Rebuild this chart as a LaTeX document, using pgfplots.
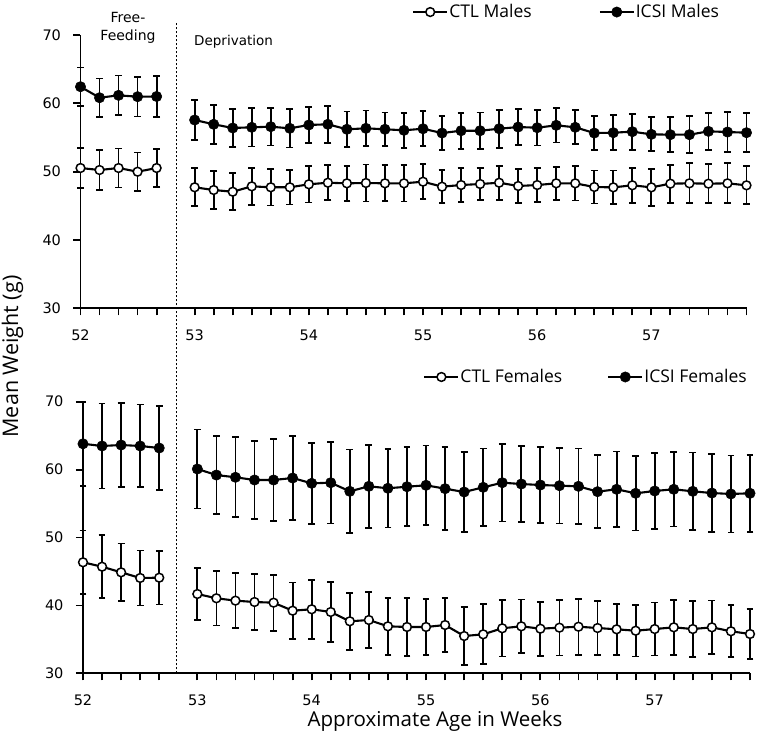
\documentclass[border=0pt]{standalone}
\usepackage{fontspec}
\setmainfont{Open Sans}
\newfontfamily\dejavu{DejaVu Sans}
\usepackage{pgfplots}
\pgfplotsset{compat=1.18}
\usepackage{pgfplotstable}

% ---------- Top panel (males) ----------
\pgfplotstableread{
x y e
0 50.53 2.95
1 50.24 2.90
2 50.53 2.85
3 49.99 2.80
4 50.53 2.75
}\topctlfree
\pgfplotstableread{
x y e
0 62.43 2.80
1 60.82 2.80
2 61.17 2.90
3 60.97 2.90
4 61.00 3.00
}\topicsifree
\pgfplotstableread{
x y e
6 47.71 2.78
7 47.31 2.78
8 47.06 2.73
9 47.85 2.73
10 47.71 2.66
11 47.71 2.51
12 48.15 2.68
13 48.38 2.54
14 48.29 2.56
15 48.34 2.71
16 48.29 2.63
17 48.29 2.66
18 48.53 2.59
19 47.80 2.41
20 48.04 2.46
21 48.19 2.39
22 48.38 2.49
23 47.90 2.46
24 48.04 2.49
25 48.29 2.39
26 48.29 2.51
27 47.75 2.41
28 47.70 2.46
29 48.00 2.56
30 47.70 2.71
31 48.24 2.78
32 48.29 2.93
33 48.24 2.83
34 48.29 2.93
35 48.00 2.78
}\topctldep
\pgfplotstableread{
x y e
6 57.56 2.90
7 56.93 2.83
8 56.39 2.80
9 56.49 2.80
10 56.58 2.75
11 56.34 2.80
12 56.83 2.59
13 56.93 2.73
14 56.20 2.61
15 56.34 2.61
16 56.20 2.46
17 56.05 2.56
18 56.28 2.56
19 55.65 2.54
20 55.99 2.63
21 55.99 2.66
22 56.28 2.80
23 56.53 2.63
24 56.43 2.59
25 56.78 2.51
26 56.49 2.49
27 55.65 2.51
28 55.70 2.54
29 55.85 2.63
30 55.46 2.49
31 55.41 2.54
32 55.41 2.68
33 55.90 2.73
34 55.80 2.88
35 55.70 2.83
}\topicsidep

% ---------- Bottom panel (females) ----------
\pgfplotstableread{
x y e
0 46.35 4.67
1 45.70 4.64
2 44.87 4.25
3 44.04 4.05
4 44.08 3.95
}\botctlfree
\pgfplotstableread{
x y e
0 63.80 6.20
1 63.48 6.26
2 63.62 6.20
3 63.48 6.10
4 63.18 6.20
}\boticsifree
\pgfplotstableread{
x y e
6 41.68 3.85
7 41.05 4.00
8 40.70 4.03
9 40.50 4.12
10 40.40 4.12
11 39.22 4.15
12 39.43 4.34
13 39.03 4.39
14 37.66 4.22
15 37.85 4.17
16 36.92 4.17
17 36.82 4.22
18 36.82 4.17
19 37.11 4.03
20 35.49 4.27
21 35.74 4.42
22 36.63 4.17
23 36.92 3.95
24 36.57 3.98
25 36.72 4.10
26 36.86 4.12
27 36.67 3.95
28 36.48 3.78
29 36.27 3.80
30 36.52 3.90
31 36.77 4.03
32 36.52 4.12
33 36.77 3.95
34 36.19 3.83
35 35.79 3.66
}\botctldep
\pgfplotstableread{
x y e
6 60.09 5.82
7 59.20 5.74
8 58.87 5.89
9 58.47 5.77
10 58.47 5.99
11 58.76 6.14
12 57.98 5.96
13 58.07 6.00
14 56.80 6.16
15 57.54 6.11
16 57.25 5.77
17 57.48 5.84
18 57.69 5.87
19 57.19 6.11
20 56.70 5.87
21 57.39 5.72
22 58.07 5.72
23 57.88 5.57
24 57.73 5.60
25 57.63 5.57
26 57.54 5.57
27 56.75 5.40
28 57.10 5.57
29 56.51 5.47
30 56.85 5.55
31 57.10 5.47
32 56.80 5.72
33 56.55 5.77
34 56.41 5.67
35 56.51 5.65
}\boticsidep

\pgfplotsset{
  panel/.style={
    scale only axis,
    xmin=0, xmax=35, ymin=30, ymax=70,
    axis x line*=bottom, axis y line*=left,
    axis line style={line width=1.9pt},
    tick align=outside,
    major tick length=7pt, minor tick length=7pt,
    every tick/.style={black, line width=1.8pt},
    xtick={0,6,12,18,24,30},
    xticklabels={52,53,54,55,56,57},
    minor xtick={1,2,3,4,7,8,9,10,11,13,14,15,16,17,19,20,21,22,23,25,26,27,28,29,31,32,33,34,35},
    ytick={30,40,50,60,70},
    ticklabel style={font=\dejavu\fontsize{14.5}{17}\selectfont},
    xticklabel style={yshift=-11pt},
    yticklabel style={/pgf/number format/assume math mode=true, xshift=-9pt},
    clip=false,
    legend columns=2,
    legend cell align=left,
    legend style={draw=none, fill=none, inner sep=0pt,
      font=\fontsize{17.5}{20}\selectfont,
      nodes={inner xsep=1pt}},
    legend image code/.code={
      \draw[mark repeat=2,mark phase=2,##1] plot coordinates {(0pt,0pt) (17pt,0pt) (34pt,0pt)};},
  },
  ebars/.style={
    error bars/y dir=both, error bars/y explicit,
    error bars/error bar style={line width=1.8pt, black},
    error bars/error mark options={rotate=90, mark size=3.4pt, line width=1.8pt, black}},
  ctl/.style={black, line width=2.1pt, mark=*, mark size=4.4pt,
    mark options={fill=white, draw=black, line width=1.5pt}, ebars},
  icsi/.style={black, line width=2.1pt, mark=*, mark size=5.2pt,
    mark options={fill=black, draw=black, line width=0.5pt}, ebars},
}

\begin{document}
\begin{tikzpicture}
\path[use as bounding box] (0pt,0pt) rectangle (760pt,745pt);

% top panel
\begin{axis}[panel, at={(80.5pt,436.7pt)}, anchor=south west,
  width=666pt, height=273.3pt,
  legend style={at={(axis description cs:0.4977,1.084)}, anchor=west},
  legend style={/tikz/every even column/.append style={column sep=66pt}}]
\addplot[ctl] table[x=x, y=y, y error=e]{\topctldep};
\addlegendentry{CTL Males}
\addplot[icsi] table[x=x, y=y, y error=e]{\topicsidep};
\addlegendentry{ICSI Males}
\addplot[forget plot, ctl] table[x=x, y=y, y error=e]{\topctlfree};
\addplot[forget plot, icsi] table[x=x, y=y, y error=e]{\topicsifree};
\end{axis}

% bottom panel
\begin{axis}[panel, at={(83pt,71.7pt)}, anchor=south west,
  width=667pt, height=271.6pt,
  legend style={at={(axis description cs:0.51,1.091)}, anchor=west},
  legend style={/tikz/every even column/.append style={column sep=44pt}}]
\addplot[ctl] table[x=x, y=y, y error=e]{\botctldep};
\addlegendentry{CTL Females}
\addplot[icsi] table[x=x, y=y, y error=e]{\boticsidep};
\addlegendentry{ICSI Females}
\addplot[forget plot, ctl] table[x=x, y=y, y error=e]{\botctlfree};
\addplot[forget plot, icsi] table[x=x, y=y, y error=e]{\boticsifree};
\draw[black, line width=0.8pt, dash pattern=on 2.5pt off 1.5pt]
  (axis cs:4.92,30) -- (axis cs:4.92,125.9);
\end{axis}

% annotations and axis titles
\node[font=\dejavu\fontsize{14}{16}\selectfont] at (128pt,727pt) {Free-};
\node[font=\dejavu\fontsize{14}{16}\selectfont] at (128pt,708pt) {Feeding};
\node[font=\dejavu\fontsize{13.5}{16}\selectfont, anchor=west, inner sep=0pt] at (194pt,703pt) {Deprivation};
\node[rotate=90, font=\fontsize{21.5}{24}\selectfont] at (12.5pt,388.5pt) {Mean Weight (g)};
\node[font=\fontsize{20.5}{24}\selectfont] at (435pt,24pt) {Approximate Age in Weeks};
\end{tikzpicture}
\end{document}
